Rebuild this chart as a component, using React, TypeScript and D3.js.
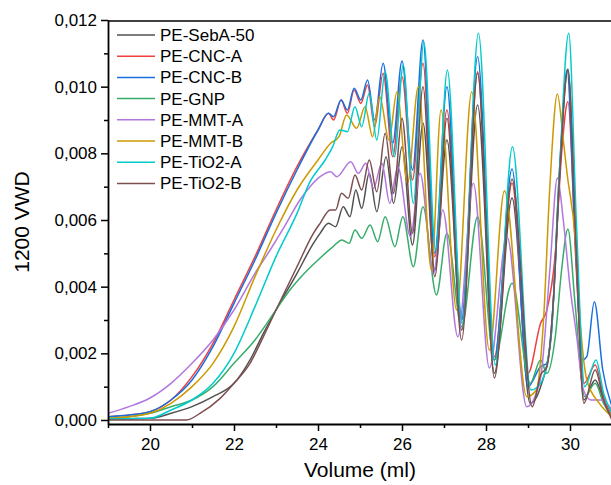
import React, { useEffect, useRef } from 'react';
import * as d3 from 'd3';

// axis ticks
const xTicks = [20, 22, 24, 26, 28, 30];
const xTickLabels = ['20', '22', '24', '26', '28', '30'];
const xMinorTicks = [19, 21, 23, 25, 27, 29, 31];
const yTicks = [0, 0.002, 0.004, 0.006, 0.008, 0.01, 0.012];
const yTickLabels = ['0,000', '0,002', '0,004', '0,006', '0,008', '0,010', '0,012'];
const yMinorTicks = [0.001, 0.003, 0.005, 0.007, 0.009, 0.011];

const seriesNames = ['PE-SebA-50', 'PE-CNC-A', 'PE-CNC-B', 'PE-GNP', 'PE-MMT-A', 'PE-MMT-B', 'PE-TiO2-A', 'PE-TiO2-B'];
const seriesColors = ['#515151', '#F14040', '#1A6FDF', '#37AD6B', '#B177DE', '#CC9900', '#00CBCC', '#7D4E4E'];

// [volume (ml), 1200 VWD]
const sebA50 = [
  [19, 0.00003], [19.5, 0.00004], [20, 0.00005], [20.5, 0.0002], [21, 0.0004], [21.5, 0.0007], [22, 0.0011],
  [22.38, 0.0018], [22.7, 0.0026], [23, 0.0033], [23.5, 0.0044], [23.89, 0.0053], [24.05, 0.0056],
  [24.25, 0.0059], [24.42, 0.0058], [24.6, 0.0064], [24.76, 0.0061], [24.9, 0.0069], [25.04, 0.00635],
  [25.22, 0.0074], [25.4, 0.00625], [25.62, 0.0079], [25.8, 0.0065], [26.0, 0.0082], [26.25, 0.00525],
  [26.5, 0.0089], [26.78, 0.0045], [27.07, 0.0084], [27.42, 0.0027], [27.8, 0.00945], [28.2, 0.0014],
  [28.62, 0.00666], [29.05, 0.0005], [29.3, 0.001], [29.55, 0.0025], [29.75, 0.0075], [29.95, 0.0105],
  [30.15, 0.005], [30.33, 0.0006], [30.6, 0.0012], [30.8, 0.0006], [31, 0.0001],
];
const cncA = [
  [19, 0.0001], [19.5, 0.00015], [20, 0.00025], [20.5, 0.0006], [21, 0.0013], [21.5, 0.0023], [22, 0.0036],
  [22.5, 0.0049], [23, 0.0063], [23.5, 0.0076], [24, 0.0087], [24.25, 0.0092], [24.37, 0.009], [24.55, 0.0096],
  [24.7, 0.0092], [24.86, 0.0099], [25.02, 0.0095], [25.18, 0.01005], [25.35, 0.0088], [25.55, 0.0104],
  [25.78, 0.0079], [26.0, 0.0103], [26.25, 0.0072], [26.5, 0.0107], [26.78, 0.0049], [27.07, 0.0093],
  [27.42, 0.003], [27.8, 0.01045], [28.2, 0.0019], [28.62, 0.0071], [29.0, 0.0014], [29.3, 0.0029],
  [29.45, 0.0033], [29.65, 0.005], [29.8, 0.008], [29.95, 0.00955], [30.15, 0.0045], [30.33, 0.0011],
  [30.6, 0.00165], [30.8, 0.0007], [31, 0.0001],
];
const cncB = [
  [19, 0.0001], [19.5, 0.00015], [20, 0.00025], [20.5, 0.0006], [21, 0.0012], [21.5, 0.0022], [22, 0.0035],
  [22.5, 0.0048], [23, 0.0062], [23.5, 0.0075], [24, 0.0087], [24.25, 0.0092], [24.37, 0.0091], [24.55, 0.0096],
  [24.7, 0.0093], [24.86, 0.00995], [25.02, 0.0096], [25.18, 0.0102], [25.35, 0.009], [25.55, 0.0107],
  [25.78, 0.0083], [26.0, 0.01077], [26.25, 0.0075], [26.5, 0.0114], [26.78, 0.005], [27.07, 0.01],
  [27.42, 0.003], [27.8, 0.0109], [28.2, 0.0018], [28.62, 0.00753], [29.0, 0.001], [29.3, 0.0016],
  [29.45, 0.0017], [29.6, 0.0035], [29.76, 0.0075], [29.93, 0.0105], [30.12, 0.0055], [30.3, 0.0018],
  [30.4, 0.0019], [30.58, 0.00355], [30.78, 0.0015], [31, 0.0004],
];
const gnp = [
  [19, 0.00005], [19.5, 0.0001], [20, 0.0002], [20.5, 0.0004], [21, 0.0006], [21.5, 0.001], [22, 0.0017],
  [22.5, 0.0024], [23, 0.0033], [23.33, 0.0039], [23.6, 0.0043], [24, 0.0048], [24.36, 0.0052],
  [24.57, 0.0054], [24.74, 0.0053], [24.88, 0.0057], [25.04, 0.00545], [25.24, 0.00585], [25.42, 0.00535],
  [25.6, 0.0061], [25.83, 0.0052], [26.02, 0.0061], [26.27, 0.0046], [26.5, 0.0064], [26.82, 0.00375],
  [27.07, 0.0056], [27.42, 0.0028], [27.8, 0.0061], [28.2, 0.0018], [28.62, 0.0041], [29.05, 0.0011],
  [29.3, 0.0018], [29.45, 0.0014], [29.65, 0.0025], [29.8, 0.0045], [29.95, 0.00573], [30.12, 0.0035],
  [30.35, 0.0007], [30.6, 0.0011], [30.8, 0.0005], [31, 0.0001],
];
const mmtA = [
  [19, 0.0002], [19.5, 0.0004], [20, 0.00066], [20.5, 0.0011], [21, 0.0017], [21.5, 0.0024],
  [22, 0.0033], [22.5, 0.0044], [22.86, 0.0051], [23.2, 0.0058], [23.57, 0.0066], [23.81, 0.007],
  [24.05, 0.0073], [24.3, 0.00745], [24.45, 0.0073], [24.78, 0.00775], [24.96, 0.0074], [25.14, 0.0077],
  [25.32, 0.00695], [25.52, 0.0077], [25.71, 0.0065], [25.9, 0.0076], [26.2, 0.0055], [26.43, 0.0074],
  [26.75, 0.0044], [26.97, 0.0063], [27.33, 0.0025], [27.7, 0.0071], [28.08, 0.00156], [28.5, 0.0055],
  [28.97, 0.0004], [29.29, 0.0012], [29.52, 0.0045], [29.7, 0.00726], [29.84, 0.006], [30.0, 0.004],
  [30.16, 0.0025], [30.32, 0.0009], [30.5, 0.0006], [30.75, 0.0006], [31, 0.0003],
];
const mmtB = [
  [19, 0.00005], [19.5, 0.0001], [20, 0.0002], [20.5, 0.0005], [21, 0.001], [21.5, 0.0017], [22, 0.0028],
  [22.5, 0.0043], [23, 0.0057], [23.5, 0.0069], [24, 0.0078], [24.3, 0.0083], [24.5, 0.0085], [24.68, 0.00915],
  [24.92, 0.00875], [25.12, 0.0094], [25.3, 0.0085], [25.47, 0.0097], [25.69, 0.0084], [25.88, 0.00985],
  [26.13, 0.0071], [26.39, 0.01], [26.7, 0.0045], [26.93, 0.0093], [27.3, 0.0033], [27.66, 0.00985],
  [28.08, 0.0021], [28.44, 0.00688], [28.97, 0.0007], [29.2, 0.0009], [29.37, 0.003], [29.52, 0.007],
  [29.7, 0.00978], [29.84, 0.0084], [29.93, 0.0074], [30.12, 0.0055], [30.24, 0.003], [30.4, 0.0012],
  [30.7, 0.0005], [31, 0.0001],
];
const tio2A = [
  [19, 0.00003], [19.5, 0.00004], [20, 0.00005], [20.5, 0.0003], [21, 0.0006], [21.5, 0.0011], [22, 0.002],
  [22.5, 0.0034], [23, 0.0049], [23.5, 0.0062], [23.81, 0.00715], [24.17, 0.0078], [24.35, 0.0082],
  [24.52, 0.0087], [24.7, 0.00865], [24.88, 0.0094], [25.04, 0.0088], [25.22, 0.0098], [25.4, 0.0084],
  [25.6, 0.01045], [25.82, 0.0079], [26.03, 0.01065], [26.27, 0.0065], [26.52, 0.01135], [26.8, 0.0051],
  [27.08, 0.0105], [27.43, 0.0029], [27.82, 0.0116], [28.22, 0.00165], [28.63, 0.0082], [29.07, 0.0009],
  [29.3, 0.0011], [29.55, 0.0025], [29.75, 0.0075], [29.97, 0.0116], [30.15, 0.006], [30.35, 0.001],
  [30.62, 0.0018], [30.8, 0.0008], [31, 0.0002],
];
const tio2B = [
  [19, 0], [20, 0], [20.87, 0], [21.19, 0.0002], [21.67, 0.00065], [22, 0.0011], [22.38, 0.0017],
  [22.7, 0.0025], [23, 0.0033], [23.5, 0.0046], [23.89, 0.0056], [24.05, 0.0059], [24.29, 0.0063],
  [24.42, 0.0063], [24.56, 0.0068], [24.72, 0.00665], [24.88, 0.00735], [25.04, 0.0069], [25.22, 0.0078],
  [25.4, 0.00685], [25.6, 0.0086], [25.8, 0.0068], [26.0, 0.00905], [26.25, 0.0056], [26.5, 0.01],
  [26.78, 0.0043], [27.07, 0.00905], [27.42, 0.0024], [27.8, 0.0104], [28.2, 0.00126], [28.62, 0.00722],
  [29.1, 0.0004], [29.3, 0.00135], [29.45, 0.0016], [29.6, 0.0035], [29.76, 0.0075], [29.95, 0.01053],
  [30.15, 0.005], [30.33, 0.0005], [30.6, 0.0015], [30.8, 0.0006], [31, 0],
];

const seriesData = [sebA50, cncA, cncB, gnp, mmtA, mmtB, tio2A, tio2B];

const FONT = 'Arial, "Liberation Sans", sans-serif';

const App: React.FC = () => {
  const svgRef = useRef<SVGSVGElement>(null);

  useEffect(() => {
    if (!svgRef.current) return;

    const width = 611;
    const left = 108;
    const right = 612;
    const top = 20;
    const bottom = 424;

    const svg = d3.select(svgRef.current);
    svg.selectAll('*').remove();

    const x = d3.scaleLinear().domain([19, 31]).range([left, right]);
    const y = d3.scaleLinear().domain([-0.00012, 0.012]).range([bottom, top]);

    svg.append('defs').append('clipPath').attr('id', 'plot-clip')
      .append('rect')
      .attr('x', left).attr('y', top)
      .attr('width', right - left).attr('height', bottom - top);

    // curves
    const line = d3.line<number[]>()
      .x(d => x(d[0]))
      .y(d => y(d[1]))
      .curve(d3.curveMonotoneX);

    const lines = svg.append('g').attr('clip-path', 'url(#plot-clip)');
    seriesData.forEach((s, i) => {
      lines.append('path')
        .datum(s)
        .attr('d', line)
        .attr('fill', 'none')
        .attr('stroke', seriesColors[i])
        .attr('stroke-width', 1.5)
        .attr('stroke-linejoin', 'round');
    });

    // x axis
    const xAxis = svg.append('g')
      .attr('transform', `translate(0,${bottom})`)
      .call(d3.axisBottom(x)
        .tickValues(xTicks)
        .tickFormat((_d, i) => xTickLabels[i])
        .tickSize(7)
        .tickSizeOuter(0)
        .tickPadding(7));
    svg.append('g')
      .attr('transform', `translate(0,${bottom})`)
      .call(d3.axisBottom(x).tickValues(xMinorTicks).tickFormat(() => '').tickSize(4).tickSizeOuter(0))
      .call(g => g.select('.domain').remove())
      .selectAll('line').attr('stroke-width', 1.5);

    // y axis
    const yAxis = svg.append('g')
      .attr('transform', `translate(${left},0)`)
      .call(d3.axisLeft(y)
        .tickValues(yTicks)
        .tickFormat((_d, i) => yTickLabels[i])
        .tickSize(7)
        .tickSizeOuter(0)
        .tickPadding(4));
    svg.append('g')
      .attr('transform', `translate(${left},0)`)
      .call(d3.axisLeft(y).tickValues(yMinorTicks).tickFormat(() => '').tickSize(4).tickSizeOuter(0))
      .call(g => g.select('.domain').remove())
      .selectAll('line').attr('stroke-width', 1.5);

    [xAxis, yAxis].forEach(g => {
      g.select('.domain').attr('stroke', '#000').attr('stroke-width', 1.8);
      g.selectAll('.tick line').attr('stroke', '#000').attr('stroke-width', 1.5);
      g.selectAll('.tick text')
        .attr('fill', '#000')
        .style('font-family', FONT)
        .style('font-size', '17px');
    });

    // top frame
    svg.append('line')
      .attr('x1', left).attr('x2', width)
      .attr('y1', top + 1).attr('y2', top + 1)
      .attr('stroke', '#000')
      .attr('stroke-width', 1.5);

    // axis titles
    svg.append('text')
      .attr('x', (left + right) / 2)
      .attr('y', 477)
      .attr('text-anchor', 'middle')
      .style('font-family', FONT)
      .style('font-size', '21px')
      .text('Volume (ml)');

    svg.append('text')
      .attr('transform', `translate(29,${(top + bottom) / 2}) rotate(-90)`)
      .attr('text-anchor', 'middle')
      .style('font-family', FONT)
      .style('font-size', '21px')
      .text('1200 VWD');

    // legend
    const legend = svg.append('g');
    seriesNames.forEach((name, i) => {
      const cy = 35 + i * 21.2;
      legend.append('line')
        .attr('x1', 117).attr('x2', 155)
        .attr('y1', cy).attr('y2', cy)
        .attr('stroke', seriesColors[i])
        .attr('stroke-width', 1.5);
      legend.append('text')
        .attr('x', 160)
        .attr('y', cy + 6)
        .style('font-family', FONT)
        .style('font-size', '17px')
        .text(name);
    });
  }, []);

  return (
    <svg
      ref={svgRef}
      width={611}
      height={485}
      style={{ position: 'absolute', left: 0, top: 0, background: '#fff' }}
    />
  );
};

export default App;
